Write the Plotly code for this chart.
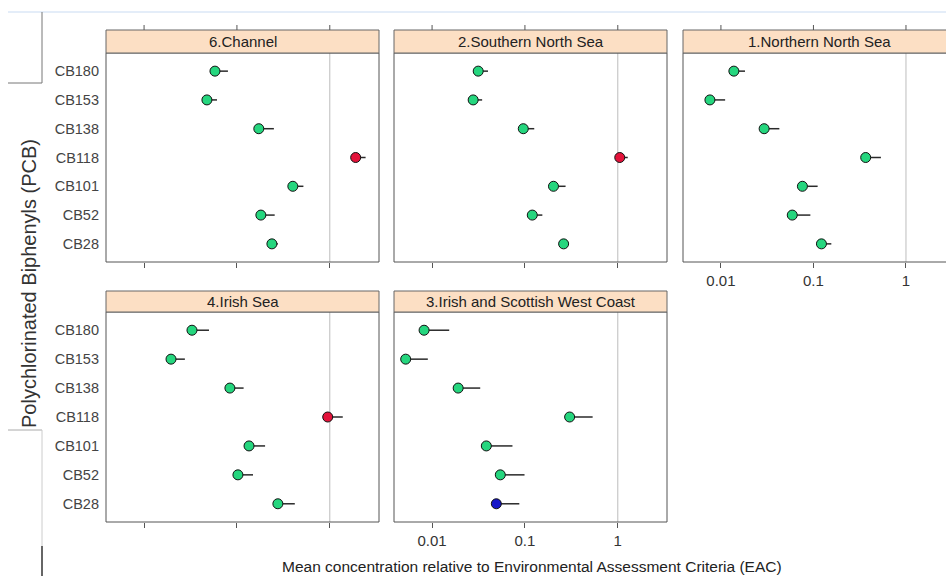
import plotly.graph_objects as go

# ---------------- data ----------------
pcb_labels = ["CB180", "CB153", "CB138", "CB118", "CB101", "CB52", "CB28"]  # top -> bottom
tick_vals_x = [0.01, 0.1, 1]
tick_text_x = ["0.01", "0.1", "1"]

region_names = ["6.Channel", "2.Southern North Sea", "1.Northern North Sea",
                "4.Irish Sea", "3.Irish and Scottish West Coast"]

channel_mean = [0.058, 0.0475, 0.172, 1.9, 0.40, 0.181, 0.238]
channel_upper = [0.080, 0.061, 0.25, 2.43, 0.52, 0.255, 0.276]
channel_status = ["green", "green", "green", "red", "green", "green", "green"]

snorth_mean = [0.0314, 0.0277, 0.096, 1.05, 0.203, 0.12, 0.261]
snorth_upper = [0.040, 0.0346, 0.126, 1.28, 0.274, 0.154, 0.295]
snorth_status = ["green", "green", "green", "red", "green", "green", "green"]

nnorth_mean = [0.0138, 0.0076, 0.0293, 0.367, 0.076, 0.059, 0.122]
nnorth_upper = [0.0182, 0.0111, 0.0428, 0.536, 0.111, 0.0926, 0.156]
nnorth_status = ["green", "green", "green", "green", "green", "green", "green"]

irish_mean = [0.0328, 0.0195, 0.084, 0.95, 0.135, 0.1025, 0.276]
irish_upper = [0.050, 0.0275, 0.118, 1.38, 0.201, 0.149, 0.42]
irish_status = ["green", "green", "green", "red", "green", "green", "green"]

west_mean = [0.0082, 0.0052, 0.0191, 0.303, 0.0384, 0.0543, 0.0492]
west_upper = [0.0153, 0.0090, 0.033, 0.536, 0.0734, 0.099, 0.087]
west_status = ["green", "green", "green", "green", "green", "green", "blue"]

# ---------------- styling ----------------
W, H = 946, 576
FONT = "Liberation Sans, Arial, sans-serif"
status_colors = {"green": "#25D67E", "red": "#E3123A", "blue": "#1515C8"}
XR = [-2.41, 0.53]
YR = [0.37, 7.63]
y_pos = list(range(len(pcb_labels), 0, -1))  # CB180 at top


def px(x):
    return x / W


def py(y):
    return 1 - y / H


# panel boxes in pixels: (left, right, strip_top, plot_top, plot_bottom)
panels = [
    (106, 379, 30, 53, 262),
    (394, 667, 30, 53, 262),
    (683, 955, 30, 53, 262),
    (106, 379, 291, 312, 522),
    (394, 667, 291, 312, 522),
]
means = [channel_mean, snorth_mean, nnorth_mean, irish_mean, west_mean]
uppers = [channel_upper, snorth_upper, nnorth_upper, irish_upper, west_upper]
statuses = [channel_status, snorth_status, nnorth_status, irish_status, west_status]
show_xlabels = [False, False, True, False, True]
show_ylabels = [True, False, False, True, False]
top_row = [True, True, True, False, False]

fig = go.Figure()
layout = dict(
    width=W, height=H,
    margin=dict(l=0, r=0, t=0, b=0),
    paper_bgcolor="white", plot_bgcolor="white",
    showlegend=False,
    font=dict(family=FONT, size=13, color="#333"),
)
shapes = []
annotations = []

for i, (l, r, st, pt, pb) in enumerate(panels):
    k = "" if i == 0 else str(i + 1)
    xa, ya = "x" + k, "y" + k
    right = min(r, W)
    xr = XR if r <= W else [XR[0], XR[0] + (XR[1] - XR[0]) * (W - l) / (r - l)]
    layout["xaxis" + k] = dict(
        domain=[px(l), px(right)], anchor=ya, type="log", range=xr,
        tickvals=tick_vals_x, ticktext=tick_text_x, showticklabels=show_xlabels[i],
        ticks="outside", ticklen=5, tickcolor="#555", showgrid=False, zeroline=False,
        showline=False, tickfont=dict(size=15, color="#333"),
    )
    layout["yaxis" + k] = dict(
        domain=[py(pb), py(pt)], anchor=xa, range=YR,
        tickvals=y_pos, ticktext=pcb_labels, showticklabels=show_ylabels[i],
        ticks="", showgrid=False, zeroline=False, showline=False,
        tickfont=dict(size=14.5, color="#444"), ticklabelstandoff=6,
    )
    # reference line at EAC = 1
    fig.add_trace(go.Scatter(
        x=[1, 1], y=YR, mode="lines", xaxis=xa, yaxis=ya,
        line=dict(color="#BDBDBD", width=1), hoverinfo="skip",
    ))
    m = means[i]
    u = uppers[i]
    fig.add_trace(go.Scatter(
        x=m, y=y_pos, mode="markers", xaxis=xa, yaxis=ya,
        marker=dict(size=10, color=[status_colors[s] for s in statuses[i]],
                    line=dict(color="#111", width=1)),
        error_x=dict(type="data", symmetric=False,
                     array=[uu - mm for uu, mm in zip(u, m)],
                     arrayminus=[0] * len(m), color="#2a2a2a", thickness=1.5, width=0),
    ))
    # panel border
    shapes.append(dict(type="rect", xref="paper", yref="paper",
                       x0=px(l), x1=px(r), y0=py(pb), y1=py(pt),
                       line=dict(color="#555", width=1), fillcolor="rgba(0,0,0,0)", layer="above"))
    # strip
    shapes.append(dict(type="rect", xref="paper", yref="paper",
                       x0=px(l), x1=px(r), y0=py(pt), y1=py(st),
                       line=dict(color="#666", width=1), fillcolor="#FCDFC4", layer="above"))
    annotations.append(dict(
        x=px((l + min(r, 946 + 10)) / 2), y=py((st + pt) / 2), xref="paper", yref="paper",
        text=region_names[i], showarrow=False, xanchor="center", yanchor="middle",
        font=dict(size=15, color="#222", family=FONT),
    ))
    # top tick marks above the strip (top row only), placed on the panel's x scale
    if top_row[i]:
        for tv in tick_vals_x:
            shapes.append(dict(type="line", xref=xa, yref="paper", x0=tv, x1=tv,
                               y0=py(st), y1=py(st - 5),
                               line=dict(color="#555", width=1)))

# axis titles
annotations.append(dict(
    x=px(532), y=py(566), xref="paper", yref="paper", showarrow=False,
    text="Mean concentration relative to Environmental Assessment Criteria (EAC)",
    xanchor="center", yanchor="middle", font=dict(size=15.5, color="#222", family=FONT),
))
annotations.append(dict(
    x=px(29), y=py(284), xref="paper", yref="paper", showarrow=False,
    text="Polychlorinated Biphenyls (PCB)", textangle=-90,
    xanchor="center", yanchor="middle", font=dict(size=20, color="#333", family=FONT),
))

# screenshot frame fragments
shapes += [
    dict(type="line", xref="paper", yref="paper", x0=px(8), x1=1, y0=py(12), y1=py(12),
         line=dict(color="#C9DBF2", width=1)),
    dict(type="line", xref="paper", yref="paper", x0=px(42), x1=px(42), y0=py(12), y1=py(83),
         line=dict(color="#777", width=1)),
    dict(type="line", xref="paper", yref="paper", x0=px(8), x1=px(42), y0=py(83), y1=py(83),
         line=dict(color="#777", width=1)),
    dict(type="line", xref="paper", yref="paper", x0=px(8), x1=px(42), y0=py(430), y1=py(430),
         line=dict(color="#AAA", width=1)),
    dict(type="line", xref="paper", yref="paper", x0=px(42), x1=px(42), y0=py(430), y1=py(546),
         line=dict(color="#CCC", width=1)),
    dict(type="line", xref="paper", yref="paper", x0=px(42), x1=px(42), y0=py(546), y1=0,
         line=dict(color="#333", width=1.5)),
]

layout["shapes"] = shapes
layout["annotations"] = annotations
fig.update_layout(**layout)
fig.write_html("out.html", config={"displayModeBar": False},
               post_script="document.body.style.margin='0';document.body.style.overflow='hidden';")
